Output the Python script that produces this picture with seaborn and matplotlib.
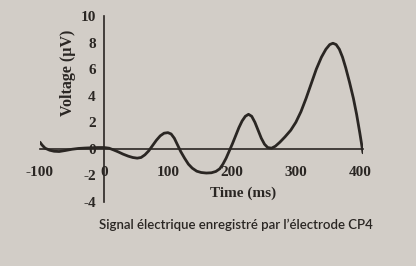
import matplotlib
matplotlib.use("Agg")
import matplotlib.pyplot as plt
import seaborn as sns
import pandas as pd

time_ms = [-100, -97, -92, -85, -78, -70, -60, -50, -40, -30, -20, -10, 0, 8, 15, 22, 30, 38,
           45, 52, 58, 64, 70, 76, 82, 88, 94, 100, 105, 110, 115, 120, 126, 132, 138, 145,
           152, 160, 168, 175, 181, 186, 191, 196, 201, 206, 211, 216, 221, 226, 231, 236,
           241, 246, 251, 256, 262, 268, 275, 283, 292, 300, 308, 316, 324, 332, 340, 347,
           353, 358, 363, 368, 373, 378, 384, 390, 395, 400, 405]
voltage_uv = [0.5, 0.3, 0.05, -0.1, -0.18, -0.2, -0.12, -0.03, 0.03, 0.06, 0.08, 0.1, 0.1,
              0.05, -0.08, -0.22, -0.4, -0.55, -0.65, -0.7, -0.65, -0.45, -0.15, 0.25, 0.65,
              0.98, 1.18, 1.22, 1.12, 0.8, 0.3, -0.2, -0.7, -1.15, -1.45, -1.68, -1.78, -1.82,
              -1.8, -1.7, -1.5, -1.15, -0.7, -0.15, 0.4, 1.0, 1.6, 2.1, 2.45, 2.6, 2.45, 2.0,
              1.4, 0.8, 0.35, 0.1, 0.05, 0.2, 0.5, 0.9, 1.4, 2.0, 2.8, 3.8, 4.9, 6.0, 6.9,
              7.5, 7.85, 7.95, 7.85, 7.5, 6.9, 6.1, 5.0, 3.8, 2.6, 1.2, -0.3]
x_ticks = [-100, 0, 100, 200, 300, 400]
y_ticks = [-4, -2, 0, 2, 4, 6, 8, 10]
x_label = "Time (ms)"
y_label = "Voltage (µV)"
caption = "Signal électrique enregistré par l’électrode CP4"

sns.set_style("white")
plt.rcParams["font.family"] = ["Liberation Serif", "DejaVu Serif"]

bg = "#d2cdc7"
ink = "#2a2623"

df = pd.DataFrame({"time": time_ms, "voltage": voltage_uv})

fig = plt.figure(figsize=(4.16, 2.66), dpi=100, facecolor=bg)
ax = fig.add_axes([40 / 416, 1 - 202 / 266, 323 / 416, 186 / 266])
ax.set_facecolor(bg)

sns.lineplot(data=df, x="time", y="voltage", ax=ax, color=ink, linewidth=2.0)

ax.set_xlim(-100, 405)
ax.set_ylim(-4, 10)
ax.spines["left"].set_position(("data", 0))
ax.spines["bottom"].set_position(("data", 0))
ax.spines["top"].set_visible(False)
ax.spines["right"].set_visible(False)
for s in ("left", "bottom"):
    ax.spines[s].set_color(ink)
    ax.spines[s].set_linewidth(1.2)

ax.set_xticks(x_ticks)
ax.set_yticks(y_ticks)
ax.set_xticklabels([str(v) for v in x_ticks])
ax.set_yticklabels([str(v) for v in y_ticks])
ax.tick_params(axis="both", colors=ink, labelsize=11, direction="out", length=3, width=1.2)
ax.tick_params(axis="x", pad=9)
ax.tick_params(axis="y", pad=3)
for lab in ax.get_xticklabels() + ax.get_yticklabels():
    lab.set_fontweight("bold")
ax.set_xlabel("")
ax.set_ylabel("")

fig.text(68 / 416, 1 - 73 / 266, y_label, rotation=90, ha="center", va="center",
         fontsize=11.5, fontweight="bold", color=ink)
fig.text(243 / 416, 1 - 193 / 266, x_label, ha="center", va="center",
         fontsize=11, fontweight="bold", color=ink)
fig.text(236 / 416, 1 - 225 / 266, caption, ha="center", va="center",
         fontsize=9.5, fontweight="semibold", color=ink, family=["Lato", "DejaVu Sans"])

fig.savefig("out.png", dpi=100, facecolor=bg)
